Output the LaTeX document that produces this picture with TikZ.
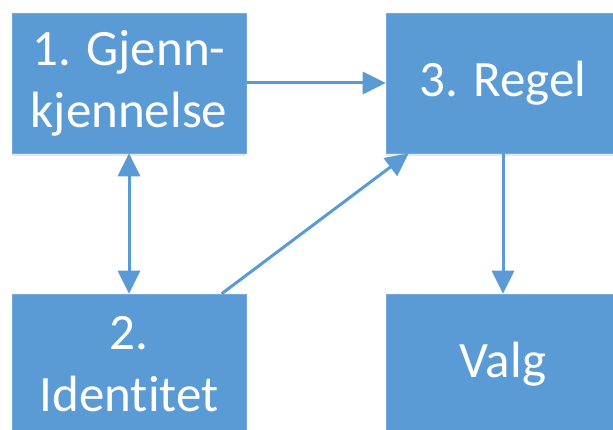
\documentclass[tikz,border=0pt]{standalone}
\usepackage{fontspec}
\setmainfont[Ligatures={NoCommon}]{Carlito}
\usetikzlibrary{arrows.meta,calc,shadows}
\definecolor{boxblue}{HTML}{5B9BD5}
\tikzset{
  stepbox/.style={rectangle, fill=boxblue, draw=boxblue!85!white, line width=0.6pt,
    minimum width=234pt, minimum height=140pt, inner sep=0pt, align=center,
    text=white, font=\fontsize{51}{62}\selectfont,
    drop shadow={shadow xshift=0pt, shadow yshift=-3pt, opacity=0.18, fill=gray}},
  tip/.tip={Triangle[length=23pt,width=22pt]},
  link/.style={draw=boxblue, line width=3pt, -tip},
  linkboth/.style={draw=boxblue, line width=3pt, tip-tip}
}
\begin{document}
\begin{tikzpicture}[x=1pt,y=-1pt]
  \useasboundingbox (0,0) rectangle (613,430);
  \clip (0,0) rectangle (613,430);
  \node[stepbox] (b1) at (129,83) {1. Gjenn-\\kjennelse};
  \node[stepbox] (b3) at (503,83) {3. Regel};
  \node[stepbox] (b2) at (129,364) {2.\\Identitet};
  \node[stepbox] (b4) at (503,364) {Valg};
  \draw[link] (b1.east) -- (b3.west);
  \draw[linkboth] (b1.south) -- (b2.north);
  \draw[link] ($(b2.north west)+(210,0)$) -- ($(b3.south west)+(23,0)$);
  \draw[link] (b3.south) -- (b4.north);
\end{tikzpicture}
\end{document}
